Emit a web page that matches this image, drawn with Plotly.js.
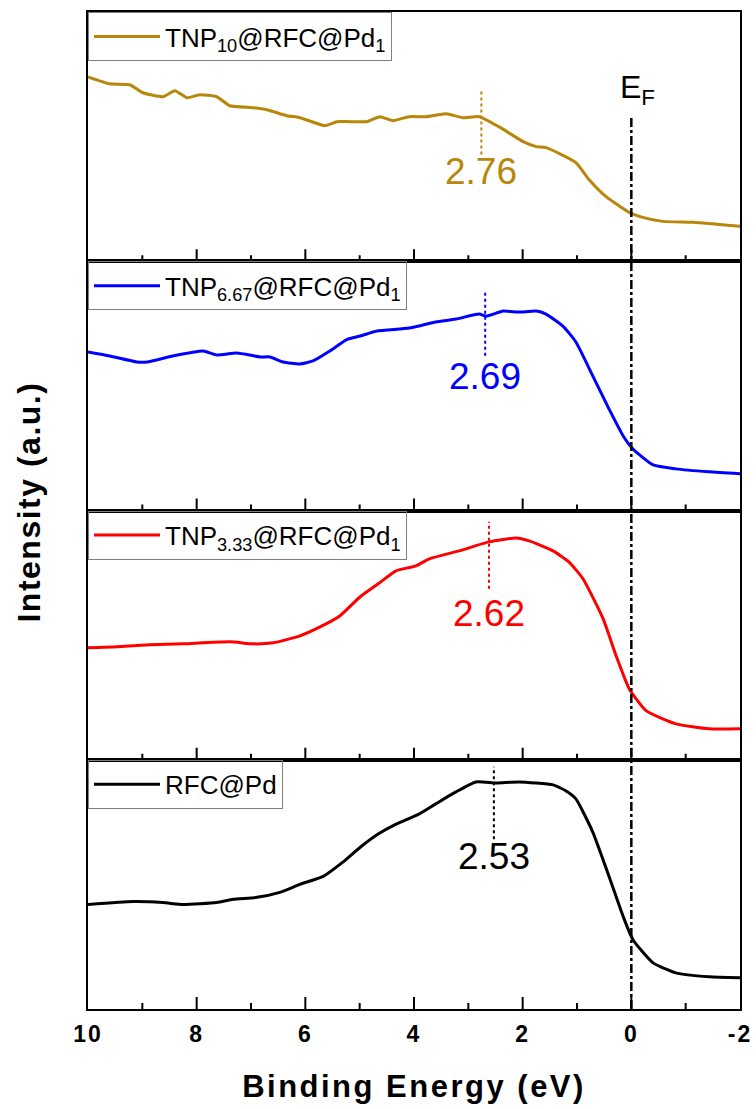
<!DOCTYPE html>
<html><head><meta charset="utf-8">
<script src="https://cdn.plot.ly/plotly-3.0.1.min.js"></script>
<style>
body{margin:0;background:#fff}
.xtitle{letter-spacing:2.5px}
.xtick text{letter-spacing:2px}
.annotation[data-index="0"] text{letter-spacing:1.5px}
</style>
</head><body>
<div id="chart" style="width:756px;height:1109px"></div>
<script>
// Binding energy (eV) and intensity (a.u.)
const energyTNP10 = [10.00, 9.60, 9.23, 8.99, 8.62, 8.40, 8.18, 7.94, 7.63, 7.39, 6.96, 6.71, 6.34, 6.10, 5.64, 5.42, 5.18, 4.87, 4.63, 4.39, 4.09, 3.78, 3.41, 3.10, 2.80, 2.44, 1.99, 1.75, 1.57, 1.02, 0.78, 0.47, 0.04, -0.21, -0.58, -1.14, -2.00];
const intensityTNP10 = [74.0, 71.2, 70.8, 67.6, 66.0, 68.4, 65.6, 66.8, 66.0, 62.4, 61.6, 60.8, 58.4, 57.6, 54.4, 56.0, 56.0, 56.0, 58.0, 56.4, 58.0, 58.0, 59.2, 57.6, 58.0, 54.0, 48.0, 46.0, 45.6, 39.6, 32.8, 26.0, 19.6, 17.6, 16.0, 15.6, 14.0];

const energyTNP667 = [10.00, 9.60, 9.10, 8.91, 8.44, 7.88, 7.63, 7.26, 6.83, 6.65, 6.41, 6.10, 5.86, 5.55, 5.23, 4.99, 4.68, 4.09, 3.60, 3.23, 2.80, 2.67, 2.36, 2.07, 1.75, 1.57, 1.26, 1.02, 0.71, 0.41, 0.15, -0.03, -0.40, -0.82, -1.43, -2.00];
const intensityTNP667 = [63.6, 62.0, 59.6, 59.6, 62.0, 64.0, 62.4, 63.2, 61.6, 61.6, 59.6, 58.8, 60.0, 64.0, 68.7, 70.0, 72.0, 73.2, 75.6, 76.8, 78.8, 78.0, 80.0, 79.6, 80.0, 78.8, 74.0, 67.6, 54.0, 40.7, 29.9, 24.7, 18.3, 16.7, 15.5, 14.7];

const energyTNP333 = [10.00, 9.47, 8.86, 8.25, 7.39, 6.96, 6.59, 6.10, 5.73, 5.36, 4.99, 4.66, 4.33, 3.96, 3.72, 3.17, 2.62, 2.12, 1.88, 1.44, 1.15, 0.89, 0.52, 0.28, 0.04, -0.27, -0.82, -1.43, -2.00];
const intensityTNP333 = [44.9, 45.3, 46.1, 46.5, 47.3, 46.5, 46.9, 49.7, 53.3, 57.8, 65.4, 70.6, 75.8, 77.8, 80.6, 83.8, 87.4, 89.0, 87.8, 83.8, 79.4, 72.6, 56.6, 41.7, 28.5, 19.7, 14.4, 12.4, 12.4];

const energyRFCPd = [10.00, 9.17, 8.62, 8.25, 7.63, 7.33, 6.89, 6.47, 6.10, 5.67, 5.31, 4.99, 4.66, 4.33, 3.91, 3.60, 3.23, 2.86, 2.49, 2.07, 1.44, 1.20, 1.02, 0.71, 0.41, 0.15, -0.03, -0.40, -0.82, -1.43, -2.00];
const intensityRFCPd = [41.9, 43.1, 42.7, 41.9, 42.7, 44.0, 44.8, 46.8, 50.0, 53.2, 58.9, 64.9, 70.2, 74.2, 78.2, 82.3, 87.1, 91.1, 90.7, 91.1, 89.9, 87.5, 84.3, 71.0, 53.2, 37.1, 27.8, 18.5, 14.5, 12.9, 12.5];

const seriesNames = ["TNP<sub>10</sub>@RFC@Pd<sub>1</sub>", "TNP<sub>6.67</sub>@RFC@Pd<sub>1</sub>", "TNP<sub>3.33</sub>@RFC@Pd<sub>1</sub>", "RFC@Pd"];
const seriesColors = ["#B8860B", "#0000FF", "#FF0000", "#000000"];
const edgeValues = [2.76, 2.69, 2.62, 2.53];
const edgeLabels = ["2.76", "2.69", "2.62", "2.53"];
const xTickVals = [10, 8, 6, 4, 2, 0, -2];
const xTickText = ["10", "8", "6", "4", "2", "0", "-2"];
const xMinorVals = [9, 7, 5, 3, 1, -1];
const fermiEnergy = 0;

const FONT = "Arial, 'Liberation Sans', sans-serif";
const energies = [energyTNP10, energyTNP667, energyTNP333, energyRFCPd];
const intens = [intensityTNP10, intensityTNP667, intensityTNP333, intensityRFCPd];
// panel order top -> bottom maps to axis index 4,3,2,1
const axIdx = [4, 3, 2, 1];
const legendIds = ["legend", "legend2", "legend3", "legend4"];

const traces = energies.map((e, i) => ({
  x: e, y: intens[i], type: "scatter", mode: "lines",
  name: seriesNames[i],
  xaxis: axIdx[i] === 1 ? "x" : "x" + axIdx[i],
  yaxis: axIdx[i] === 1 ? "y" : "y" + axIdx[i],
  legend: legendIds[i],
  line: {color: seriesColors[i], width: 3, shape: "spline", smoothing: 0.5},
  hoverinfo: "skip"
}));

const layout = {
  width: 756, height: 1109,
  margin: {l: 88, r: 16, t: 12, b: 100},
  paper_bgcolor: "#fff", plot_bgcolor: "#fff",
  font: {family: FONT, color: "#000"},
  showlegend: true,
  shapes: [], annotations: []
};

const domains = [[0.75, 1], [0.5, 0.75], [0.25, 0.5], [0, 0.25]];
const panelPx = 249.25;
const majorLen = 12 / panelPx * 100, minorLen = 6 / panelPx * 100;
for (let i = 0; i < 4; i++) {
  const k = axIdx[i];
  const xn = k === 1 ? "xaxis" : "xaxis" + k;
  const yn = k === 1 ? "yaxis" : "yaxis" + k;
  const xr = k === 1 ? "x" : "x" + k;
  const yr = k === 1 ? "y" : "y" + k;
  layout[xn] = {
    range: [10, -2], domain: [0, 1], anchor: yr,
    showline: true, mirror: true, linecolor: "#000", linewidth: 2,
    showgrid: false, zeroline: false, ticks: "",
    tickmode: "array", tickvals: xTickVals, ticktext: xTickText,
    showticklabels: k === 1, ticklabelstandoff: 3,
    tickfont: {family: FONT, size: 23, weight: "bold", color: "#000"}
  };
  if (k === 1) {
    layout[xn].title = {text: "Binding Energy (eV)", font: {family: FONT, size: 31, weight: "bold", color: "#000"}, standoff: 30};
  }
  layout[yn] = {
    range: [0, 100], domain: domains[i], anchor: xr,
    showline: true, mirror: true, linecolor: "#000", linewidth: 2,
    showgrid: false, zeroline: false, ticks: "", showticklabels: false
  };
  layout[legendIds[i]] = {
    x: 0, xanchor: "left", y: domains[i][1], yanchor: "top",
    xref: "paper", yref: "paper",
    bgcolor: "rgba(255,255,255,0)", bordercolor: "#7f7f7f", borderwidth: 1,
    font: {family: FONT, size: 26, color: "#000"},
    itemwidth: 66
  };
  // inward tick marks along the bottom edge of each panel, built from the tick arrays
  const tx = [], ty = [];
  xTickVals.slice(1, -1).forEach(v => { tx.push(v, v, null); ty.push(0, majorLen, null); });
  xMinorVals.forEach(v => { tx.push(v, v, null); ty.push(0, minorLen, null); });
  traces.push({
    x: tx, y: ty, type: "scatter", mode: "lines", xaxis: xr, yaxis: yr,
    showlegend: false, hoverinfo: "skip", connectgaps: false,
    line: {color: "#000", width: 2}
  });
}

// y-axis title as annotation (index 0) centred on the whole stack
layout.annotations.push({
  text: "Intensity (a.u.)", textangle: -90, showarrow: false,
  xref: "paper", yref: "paper", x: -0.0905, y: 0.509, xanchor: "center", yanchor: "middle",
  font: {family: FONT, size: 32, weight: "bold", color: "#000"}
});

// dotted markers and labels
const dotRanges = [[42.8, 68.8], [62.1, 88.1], [68.6, 95.5], [68.1, 97.2]];
const labelY = [36, 53.7, 58.6, 61.3];
for (let i = 0; i < 4; i++) {
  const k = axIdx[i];
  const xr = k === 1 ? "x" : "x" + k;
  const yr = k === 1 ? "y" : "y" + k;
  layout.shapes.push({
    type: "line", xref: xr, yref: yr,
    x0: edgeValues[i], x1: edgeValues[i], y0: dotRanges[i][0], y1: dotRanges[i][1],
    line: {color: seriesColors[i], width: 2, dash: "dot"}
  });
  layout.annotations.push({
    text: edgeLabels[i], showarrow: false, xref: xr, yref: yr,
    x: edgeValues[i], y: labelY[i], xanchor: "center", yanchor: "middle",
    font: {family: FONT, size: 37, color: seriesColors[i]}
  });
}

// Fermi level dash-dot line through all panels
layout.shapes.push({
  type: "line", xref: "x", yref: "paper",
  x0: fermiEnergy, x1: fermiEnergy, y0: 0, y1: 0.8947,
  line: {color: "#000", width: 2.5, dash: "dashdot"}
});
layout.annotations.push({
  text: "E<sub>F</sub>", showarrow: false, xref: "x4", yref: "y4",
  x: fermiEnergy, y: 69, xanchor: "center", yanchor: "middle", xshift: 6,
  font: {family: FONT, size: 32, color: "#000"}
});

Plotly.newPlot("chart", traces, layout, {staticPlot: true, displayModeBar: false});
</script></body></html>
